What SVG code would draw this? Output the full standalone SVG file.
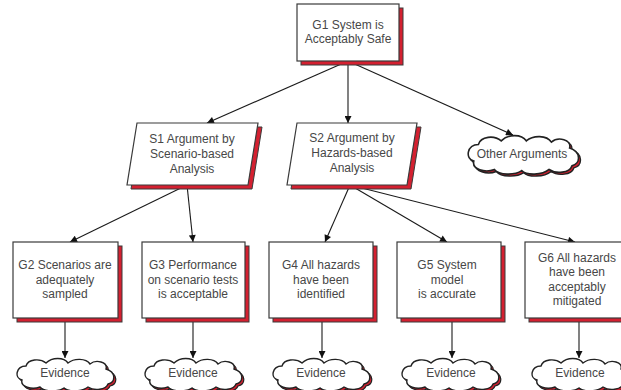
<svg xmlns="http://www.w3.org/2000/svg" width="621" height="390" viewBox="0 0 621 390">
  <defs>
    <style>
      .box { fill: #ffffff; stroke: #3a3a3a; stroke-width: 1.2; }
      .shadow { fill: #d42030; stroke: #3a3a3a; stroke-width: 1; }
      .lbl { font-family: "Liberation Sans", Arial, sans-serif; font-size: 12px; fill: #474747; text-anchor: middle; }
      .conn { stroke: #1a1a1a; stroke-width: 1.1; fill: none; marker-end: url(#arr); }
      .cloud { fill: #ffffff; stroke: #222; stroke-width: 1.4; vector-effect: non-scaling-stroke; }
      .cloudsh { fill: #d42030; stroke: #222; stroke-width: 1.2; vector-effect: non-scaling-stroke; }
    </style>
    <marker id="arr" viewBox="0 0 10 10" refX="10" refY="5" markerWidth="9" markerHeight="7" orient="auto" markerUnits="userSpaceOnUse">
      <path d="M0,0 L10,5 L0,10 z" fill="#111"/>
    </marker>
    <!-- cloud outline centred on the origin, about 98 x 32 -->
    <path id="cloudShape" d="M-44,6 C-52,4 -50,-8 -40,-8 C-38,-15 -26,-16 -20,-11 C-14,-17 -2,-17 2,-11 C8,-16 20,-16 24,-10 C30,-15 42,-12 40,-5 C50,-2 50,8 42,10 C40,16 28,17 22,13 C16,18 2,18 -2,14 C-8,18 -22,18 -26,13 C-34,16 -46,13 -44,6 Z"/>
  </defs>

  <g id="connectors">
    <path class="conn" d="M348,61 L207,123"/>
    <path class="conn" d="M348,61 L348,123"/>
    <path class="conn" d="M348,61 L513,135"/>
    <path class="conn" d="M187,185 L70,242"/>
    <path class="conn" d="M187,185 L193,242"/>
    <path class="conn" d="M350,185 L325,242"/>
    <path class="conn" d="M350,185 L447,242"/>
    <path class="conn" d="M350,185 L575,242"/>
    <path class="conn" d="M65,318 L65,358"/>
    <path class="conn" d="M193,318 L193,358"/>
    <path class="conn" d="M322,318 L322,358"/>
    <path class="conn" d="M452,318 L452,358"/>
    <path class="conn" d="M579,318 L579,358"/>
  </g>

  <g id="G1">
    <rect class="shadow" x="301" y="8" width="102" height="57"/>
    <rect class="box" x="297" y="4" width="102" height="57"/>
    <text class="lbl" x="348" y="29">G1 System is</text>
    <text class="lbl" x="348" y="43">Acceptably Safe</text>
  </g>

  <g id="S1">
    <polygon class="shadow" points="141,127 262,127 252,189 131,189"/>
    <polygon class="box" points="137,123 258,123 248,185 127,185"/>
    <text class="lbl" x="192" y="143">S1 Argument by</text>
    <text class="lbl" x="192" y="158">Scenario-based</text>
    <text class="lbl" x="192" y="173">Analysis</text>
  </g>

  <g id="S2">
    <polygon class="shadow" points="301,127 421,127 411,189 291,189"/>
    <polygon class="box" points="297,123 417,123 407,185 287,185"/>
    <text class="lbl" x="352" y="142">S2 Argument by</text>
    <text class="lbl" x="352" y="157">Hazards-based</text>
    <text class="lbl" x="352" y="172">Analysis</text>
  </g>

  <g id="other-arguments">
    <use href="#cloudShape" class="cloudsh" transform="translate(526,156) scale(1.14,1.19)"/>
    <use href="#cloudShape" class="cloud" transform="translate(524,154) scale(1.14,1.19)"/>
    <text class="lbl" x="522" y="158">Other Arguments</text>
  </g>

  <g id="G2">
    <rect class="shadow" x="17" y="246" width="105" height="76"/>
    <rect class="box" x="13" y="242" width="105" height="76"/>
    <text class="lbl" x="65" y="269">G2 Scenarios are</text>
    <text class="lbl" x="65" y="284">adequately</text>
    <text class="lbl" x="65" y="298">sampled</text>
  </g>

  <g id="G3">
    <rect class="shadow" x="146" y="246" width="103" height="76"/>
    <rect class="box" x="142" y="242" width="103" height="76"/>
    <text class="lbl" x="193" y="269">G3 Performance</text>
    <text class="lbl" x="193" y="284">on scenario tests</text>
    <text class="lbl" x="193" y="298">is acceptable</text>
  </g>

  <g id="G4">
    <rect class="shadow" x="273" y="246" width="104" height="76"/>
    <rect class="box" x="269" y="242" width="104" height="76"/>
    <text class="lbl" x="321" y="269">G4 All hazards</text>
    <text class="lbl" x="321" y="284">have been</text>
    <text class="lbl" x="321" y="298">identified</text>
  </g>

  <g id="G5">
    <rect class="shadow" x="401" y="246" width="104" height="76"/>
    <rect class="box" x="397" y="242" width="104" height="76"/>
    <text class="lbl" x="447" y="269">G5 System</text>
    <text class="lbl" x="447" y="284">model</text>
    <text class="lbl" x="447" y="298">is accurate</text>
  </g>

  <g id="G6">
    <rect class="shadow" x="529" y="246" width="104" height="76"/>
    <rect class="box" x="525" y="242" width="104" height="76"/>
    <text class="lbl" x="577" y="262">G6 All hazards</text>
    <text class="lbl" x="577" y="276">have been</text>
    <text class="lbl" x="577" y="291">acceptably</text>
    <text class="lbl" x="577" y="305">mitigated</text>
  </g>

  <g id="E2">
    <use href="#cloudShape" class="cloudsh" transform="translate(68,376)"/>
    <use href="#cloudShape" class="cloud" transform="translate(66,374)"/>
    <text class="lbl" x="65" y="377">Evidence</text>
  </g>
  <g id="E3">
    <use href="#cloudShape" class="cloudsh" transform="translate(196,376)"/>
    <use href="#cloudShape" class="cloud" transform="translate(194,374)"/>
    <text class="lbl" x="193" y="377">Evidence</text>
  </g>
  <g id="E4">
    <use href="#cloudShape" class="cloudsh" transform="translate(324,376)"/>
    <use href="#cloudShape" class="cloud" transform="translate(322,374)"/>
    <text class="lbl" x="321" y="377">Evidence</text>
  </g>
  <g id="E5">
    <use href="#cloudShape" class="cloudsh" transform="translate(453,376)"/>
    <use href="#cloudShape" class="cloud" transform="translate(451,374)"/>
    <text class="lbl" x="451" y="377">Evidence</text>
  </g>
  <g id="E6">
    <use href="#cloudShape" class="cloudsh" transform="translate(583,376)"/>
    <use href="#cloudShape" class="cloud" transform="translate(581,374)"/>
    <text class="lbl" x="580" y="377">Evidence</text>
  </g>
</svg>
